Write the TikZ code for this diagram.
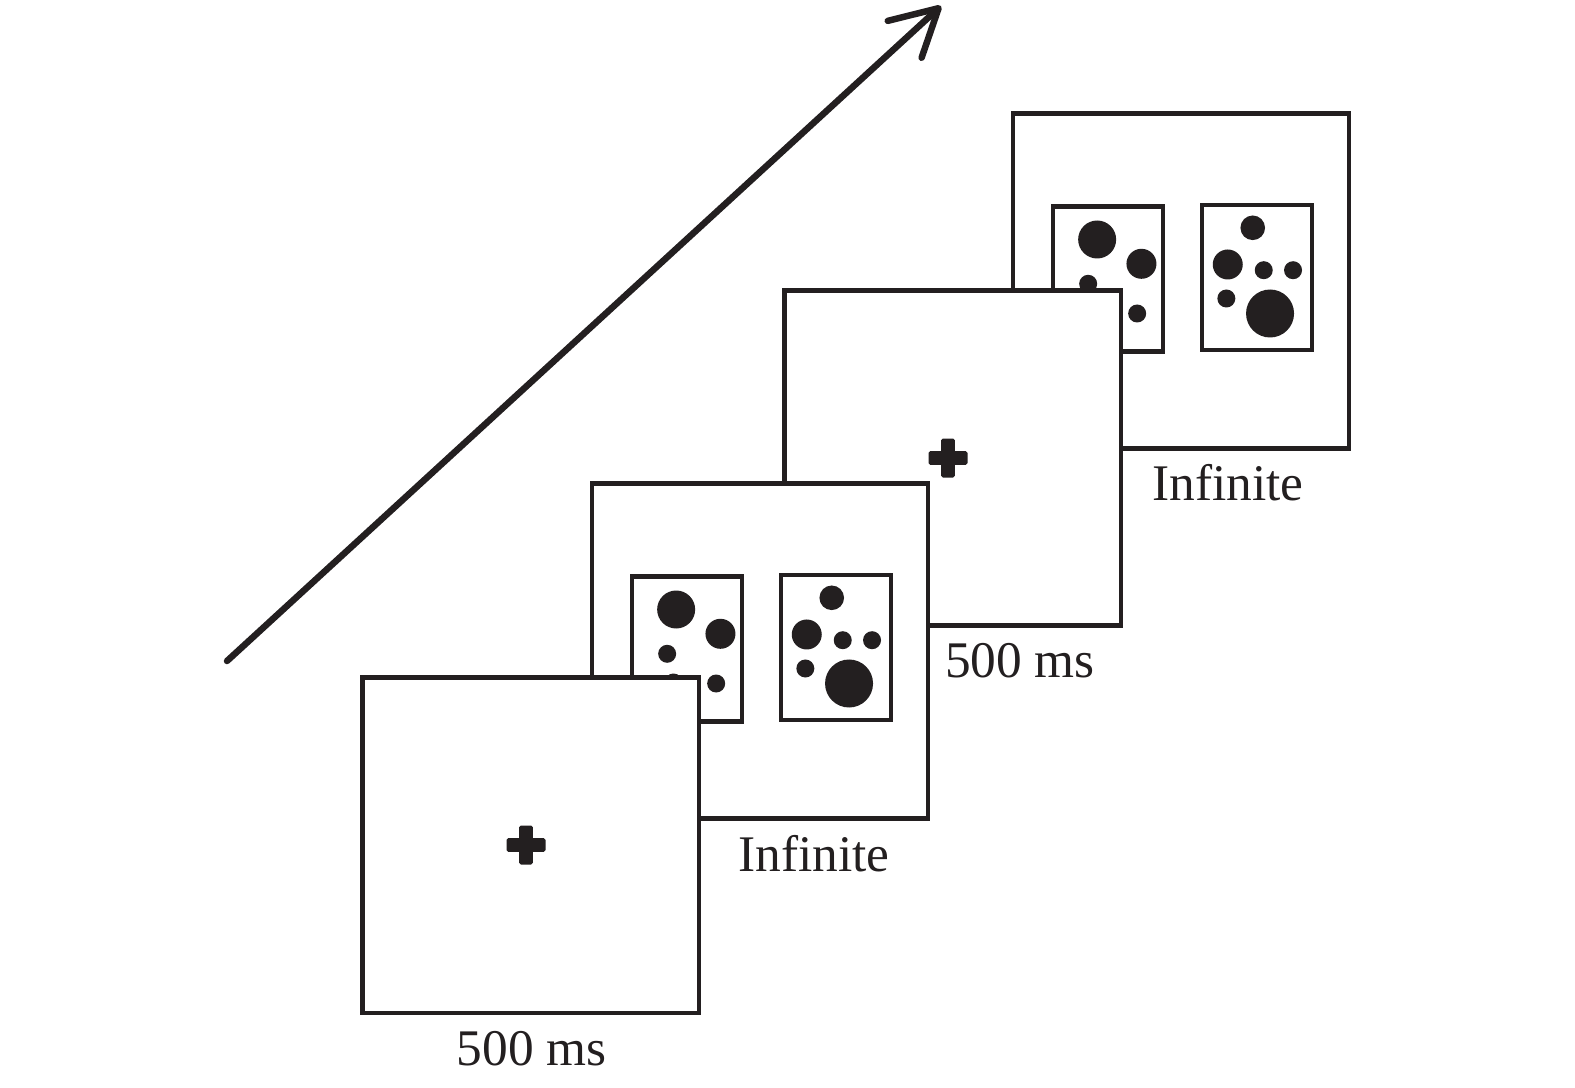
\documentclass[tikz,border=0pt]{standalone}
\usepackage{fontspec}
\setmainfont{Liberation Serif}
\usepackage{xcolor}
\usepackage{tikz}
\usetikzlibrary{positioning,arrows.meta}

\definecolor{ink}{RGB}{35,31,32}

\begin{document}
\begin{tikzpicture}[
    x=0.01cm,
    y=-0.01cm,
    screen/.style={
        rectangle,
        draw=ink,
        fill=white,
        line width=0.042cm,
        minimum width=3.36cm,
        minimum height=3.35cm,
        inner sep=0pt
    },
    panel/.style={
        rectangle,
        draw=ink,
        fill=white,
        line width=0.042cm,
        minimum width=1.1cm,
        minimum height=1.45cm,
        inner sep=0pt
    },
    duration/.style={
        anchor=base,
        inner sep=0pt,
        text=ink,
        font=\fontsize{14.6}{17}\selectfont
    },
    arrow/.style={
        -{Straight Barb[length=4.6mm, width=5mm, round]},
        line width=0.065cm,
        line cap=round,
        draw=ink
    },
    pics/fixcross/.style={code={
        \fill[ink, rounded corners=0.5pt] (-19.5,-6.8) rectangle (19.5,6.8);
        \fill[ink, rounded corners=0.5pt] (-6.8,-19.5) rectangle (6.8,19.5);
    }},
    pics/leftdots/.style={code={
        \fill[ink] (-10.8,-39.5) circle[radius=19];
        \fill[ink] (33.5,-15.2) circle[radius=15];
        \fill[ink] (-19.8,4.8) circle[radius=9];
        \fill[ink] (-13.5,33.5) circle[radius=9];
        \fill[ink] (29.2,34.5) circle[radius=9];
    }},
    pics/rightdots/.style={code={
        \fill[ink] (-4.3,-49.7) circle[radius=12.3];
        \fill[ink] (-29.3,-13) circle[radius=15];
        \fill[ink] (6.7,-7.3) circle[radius=9];
        \fill[ink] (36,-7.3) circle[radius=9];
        \fill[ink] (-30.7,21) circle[radius=9];
        \fill[ink] (13,36) circle[radius=24];
    }}
]

\useasboundingbox (0,0) rectangle (1575,1088);

% Time arrow
\coordinate (tstart) at (227,661);
\coordinate (ttip) at (941,6);
\draw[arrow] (tstart) -- (ttip);

% Screen 4: choice
\node[screen] (s4) at (1181,281) {};
\node[panel, right=0.4cm of s4.west, yshift=0.02cm] (s4l) {};
\node[panel, left=0.37cm of s4.east, yshift=0.035cm] (s4r) {};
\pic at (s4l) {leftdots};
\pic at (s4r) {rightdots};

% Screen 3: fixation
\node[screen] (s3) at (952.5,458) {};
\pic at ([xshift=-0.045cm]s3.center) {fixcross};

% Screen 2: choice
\node[screen] (s2) at (760,651) {};
\node[panel, right=0.4cm of s2.west, yshift=0.02cm] (s2l) {};
\node[panel, left=0.37cm of s2.east, yshift=0.035cm] (s2r) {};
\pic at (s2l) {leftdots};
\pic at (s2r) {rightdots};

% Screen 1: fixation
\node[screen] (s1) at (530.5,845) {};
\pic at ([xshift=-0.045cm]s1.center) {fixcross};

% Durations
\node[duration] (d1) at (531.7,1065) {500 ms};
\node[duration] (d2) at (814,871) {Infinite};
\node[duration] (d3) at (1020,677) {500 ms};
\node[duration] (d4) at (1228,501) {Infinite};

\end{tikzpicture}
\end{document}
